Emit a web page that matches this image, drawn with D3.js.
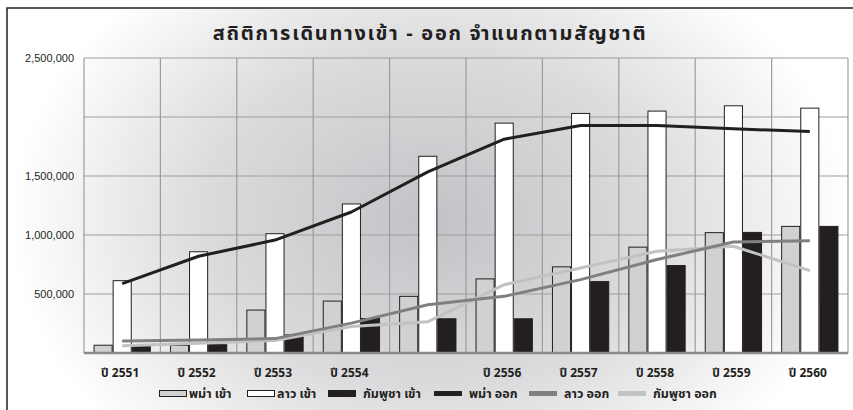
<!DOCTYPE html>
<html>
<head>
<meta charset="utf-8">
<script src="https://cdn.jsdelivr.net/npm/d3@7"></script>
<style>
  html, body { margin: 0; padding: 0; background: #fff; }
  svg { display: block; }
  text { font-family: "Noto Sans Thai", "Tahoma", "Liberation Sans", Arial, sans-serif; }
</style>
</head>
<body>
<svg id="chart" width="853" height="410"></svg>
<script>
// ---- data ----
const title = "สถิติการเดินทางเข้า - ออก จำแนกตามสัญชาติ";
const categories = ["2551","2552","2553","2554","2555","2556","2557","2558","2559","2560"];
const categoryLabels = ["ปี 2551","ปี 2552","ปี 2553","ปี 2554","","ปี 2556","ปี 2557","ปี 2558","ปี 2559","ปี 2560"];
const yTickValues = [0, 500000, 1000000, 1500000, 2000000, 2500000];
const yTickLabels = ["", "500,000", "1,000,000", "1,500,000", "", "2,500,000"];

const barSeriesNames = ["พม่า เข้า", "ลาว เข้า", "กัมพูชา เข้า"];
const myanmarIn  = [66000, 65000, 364000, 440000, 480000, 628000, 730000, 897000, 1020000, 1073000];
const laosIn     = [613000, 858000, 1011000, 1263000, 1667000, 1948000, 2030000, 2050000, 2095000, 2075000];
const cambodiaIn = [54000, 70000, 153000, 292000, 290000, 290000, 605000, 741000, 1022000, 1073000];

const lineSeriesNames = ["พม่า ออก", "ลาว ออก", "กัมพูชา ออก"];
const myanmarOut  = [588000, 820000, 957000, 1195000, 1535000, 1812000, 1928000, 1928000, 1900000, 1877000];
const laosOut     = [102000, 111000, 122000, 253000, 409000, 480000, 622000, 792000, 940000, 951000];
const cambodiaOut = [62000, 82000, 105000, 224000, 265000, 579000, 721000, 863000, 905000, 698000];

const barSeries = [myanmarIn, laosIn, cambodiaIn];
const lineSeries = [myanmarOut, laosOut, cambodiaOut];

// ---- styles ----
const barFill = ["#d0d1d3", "#ffffff", "#231f20"];
const barStroke = ["#231f20", "#231f20", "#231f20"];
const lineColor = ["#231f20", "#808080", "#c2c2c2"];

const svg = d3.select("#chart");
const W = 853, H = 410;
const plot = { left: 84, right: 848, top: 58, bottom: 353 };

// background gradient
const defs = svg.append("defs");
const grad = defs.append("radialGradient")
  .attr("id", "bg")
  .attr("gradientUnits", "userSpaceOnUse")
  .attr("cx", 430).attr("cy", 220).attr("r", 420)
  .attr("gradientTransform", "translate(430,220) scale(1,0.75) translate(-430,-220)");
grad.append("stop").attr("offset", 0).attr("stop-color", "#c2c3c6");
grad.append("stop").attr("offset", 0.55).attr("stop-color", "#dcdcde");
grad.append("stop").attr("offset", 1).attr("stop-color", "#ffffff");

svg.append("rect").attr("x", 0).attr("y", 0).attr("width", W).attr("height", H).attr("fill", "#fff");
svg.append("rect").attr("x", 7).attr("y", 8).attr("width", W - 7).attr("height", H - 8).attr("fill", "url(#bg)");
// frame (top + left)
svg.append("path").attr("d", `M7,${H} V8 H${W}`).attr("fill", "none").attr("stroke", "#231f20").attr("stroke-width", 1.5);

// title
svg.append("text")
  .attr("x", 430).attr("y", 40)
  .attr("text-anchor", "middle")
  .attr("font-size", 20).attr("font-weight", "bold")
  .attr("letter-spacing", 1.7)
  .attr("fill", "#231f20")
  .text(title);

// scales
const x0 = d3.scaleBand().domain(categories).range([plot.left, plot.right]).padding(0);
const x1 = d3.scaleBand().domain(d3.range(barSeries.length)).range([0, x0.bandwidth()]).paddingInner(0).paddingOuter(0.5);
const y = d3.scaleLinear().domain([0, 2500000]).range([plot.bottom, plot.top]);

// grid
const g = svg.append("g");
g.selectAll("line.h").data(yTickValues.filter(v => v > 0)).join("line")
  .attr("x1", plot.left).attr("x2", plot.right)
  .attr("y1", d => y(d)).attr("y2", d => y(d))
  .attr("stroke", "#9d9d9f").attr("stroke-width", 1.2);
const vLines = categories.map(c => x0(c)).concat([plot.right]);
g.selectAll("line.v").data(vLines).join("line")
  .attr("x1", d => d).attr("x2", d => d)
  .attr("y1", plot.top).attr("y2", plot.bottom)
  .attr("stroke", "#9d9d9f").attr("stroke-width", 1.2);

// y axis labels
const yAxis = d3.axisLeft(y).tickValues(yTickValues)
  .tickFormat((d, i) => yTickLabels[i]).tickSize(0).tickPadding(0);
const ya = svg.append("g").attr("transform", `translate(${plot.left - 10},0)`).call(yAxis);
ya.select(".domain").remove();
ya.selectAll("text").attr("font-size", 11).attr("fill", "#231f20")
  .style("font-family", "'Liberation Sans', Arial, sans-serif");

// bars
barSeries.forEach((vals, si) => {
  svg.append("g").selectAll("rect").data(vals).join("rect")
    .attr("x", (d, i) => x0(categories[i]) + x1(si) + 0.5)
    .attr("y", d => y(d))
    .attr("width", x1.bandwidth() - 1)
    .attr("height", d => plot.bottom - y(d))
    .attr("fill", barFill[si])
    .attr("stroke", barStroke[si]).attr("stroke-width", 1);
});

// bottom axis line
svg.append("line").attr("x1", plot.left).attr("x2", plot.right)
  .attr("y1", plot.bottom).attr("y2", plot.bottom)
  .attr("stroke", "#8a8a8c").attr("stroke-width", 2.5);

// x axis labels
const xAxis = d3.axisBottom(x0).tickFormat((d, i) => categoryLabels[i]).tickSize(0).tickPadding(0);
const xa = svg.append("g").attr("transform", `translate(-2,${plot.bottom + 15})`).call(xAxis);
xa.select(".domain").remove();
xa.selectAll("text").attr("font-size", 12).attr("font-weight", "bold").attr("fill", "#231f20");

// lines
const lineGen = d3.line()
  .x((d, i) => x0(categories[i]) + x0.bandwidth() / 2)
  .y(d => y(d));
[2, 1, 0].forEach(si => {
  svg.append("path").datum(lineSeries[si])
    .attr("d", lineGen)
    .attr("fill", "none")
    .attr("stroke", lineColor[si]).attr("stroke-width", 3)
    .attr("stroke-linejoin", "round");
});

// legend
const legendY = 393;
const legendItems = [
  { name: barSeriesNames[0], type: "bar", i: 0, x: 159 },
  { name: barSeriesNames[1], type: "bar", i: 1, x: 247 },
  { name: barSeriesNames[2], type: "bar", i: 2, x: 328 },
  { name: lineSeriesNames[0], type: "line", i: 0, x: 434 },
  { name: lineSeriesNames[1], type: "line", i: 1, x: 529 },
  { name: lineSeriesNames[2], type: "line", i: 2, x: 618 }
];
const lg = svg.append("g").selectAll("g").data(legendItems).join("g")
  .attr("transform", d => `translate(${d.x},${legendY})`);
lg.each(function(d) {
  const s = d3.select(this);
  if (d.type === "bar") {
    s.append("rect").attr("x", 0.5).attr("y", -2.5).attr("width", 27).attr("height", 6)
      .attr("fill", barFill[d.i]).attr("stroke", "#231f20").attr("stroke-width", 1);
  } else {
    s.append("line").attr("x1", 0).attr("x2", 28).attr("y1", 0.5).attr("y2", 0.5)
      .attr("stroke", lineColor[d.i]).attr("stroke-width", 5);
  }
  s.append("text").attr("x", d.type === "bar" ? (d.i === 2 ? 35 : 30) : 35).attr("y", 5)
    .attr("font-size", 12.5).attr("font-weight", "bold").attr("fill", "#231f20").text(d.name);
});
</script>
</body>
</html>
